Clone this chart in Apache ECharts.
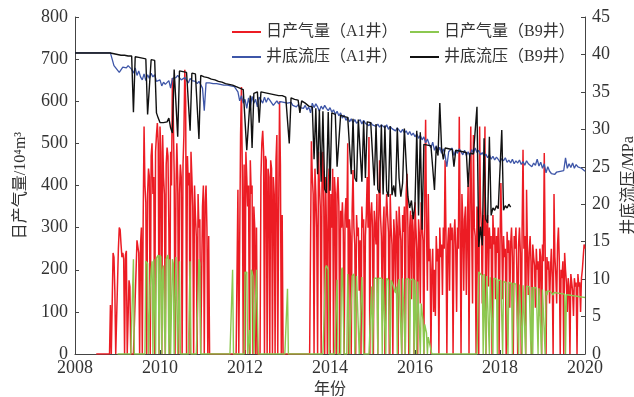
<!DOCTYPE html>
<html>
<head>
<meta charset="utf-8">
<script src="https://cdn.jsdelivr.net/npm/echarts@6/dist/echarts.min.js"></script>
<style>html,body{margin:0;padding:0;background:#fff;}#c{width:634px;height:397px;}</style>
</head>
<body>
<div id="c"></div>
<script>
const START_YEAR = 2008;
const xTicks = [2008, 2010, 2012, 2014, 2016, 2018, 2020];
const seriesNames = ['日产气量（A1井）', '日产气量（B9井）', '井底流压（A1井）', '井底流压（B9井）'];

// Gas rates: samples every 1/48 year (each row = half a year)
const GAS_STEP = 1 / 48;
// 日产气量 A1 (10^4 m3/d), first sample at 2008.5
const gasA1StartYear = 2008.5;
const gasA1 = [
0,0,0,0,0,0,0,0,0,0,0,0,0,0,0,0,116,0,0,240,230,150,0,0,
0,250,300,295,260,230,240,225,0,235,245,0,0,175,160,0,0,0,0,0,0,200,270,255,
240,0,260,300,0,320,540,400,360,0,380,440,420,0,470,500,380,420,0,480,520,548,500,0,
540,480,0,520,420,380,0,450,490,470,300,0,480,400,655,560,430,0,380,500,420,0,380,450,
420,0,450,520,675,600,0,470,400,430,0,480,420,350,0,400,330,280,0,380,300,320,0,0,
350,400,0,360,400,300,0,280,0,0,0,0,0,0,0,0,0,0,0,0,0,0,0,0,
0,0,0,0,0,0,0,0,0,0,0,0,0,0,0,0,390,0,0,520,634,420,0,450,
0,480,420,350,400,0,460,380,400,0,350,300,0,300,0,0,0,0,420,500,530,480,0,470,
460,0,440,420,0,460,440,0,420,380,0,460,520,0,330,600,450,0,330,0,0,0,0,0,
0,0,0,0,0,0,0,0,0,0,0,0,0,0,0,0,0,0,0,0,0,0,0,0,
0,0,0,505,420,380,0,440,380,300,0,480,400,350,0,420,480,350,0,420,300,0,400,440,
0,380,300,440,0,420,380,0,380,420,350,0,340,300,360,290,0,330,370,300,500,0,320,280,
0,340,437,300,260,0,330,280,300,150,270,0,350,300,320,0,280,330,420,300,515,0,330,360,
300,0,340,300,260,380,0,310,460,330,280,120,300,350,0,310,380,330,290,0,380,300,260,0,
320,280,150,340,300,0,350,300,270,0,330,290,350,0,380,428,300,0,300,340,130,330,290,0,
360,300,250,0,320,280,120,360,300,270,0,380,556,300,150,380,220,250,0,200,250,100,200,90,
280,220,250,0,300,230,260,140,300,250,460,280,0,260,300,150,310,270,300,0,280,320,250,100,
300,250,563,300,0,380,320,150,320,350,140,300,400,0,350,540,300,120,520,300,280,0,350,320,
0,540,350,300,120,330,280,540,0,300,330,160,300,250,280,0,330,260,300,130,280,240,300,0,
260,406,280,130,280,230,250,0,290,240,270,110,260,300,230,0,280,250,300,200,0,260,300,240,
0,300,485,250,280,0,390,250,140,240,280,220,0,260,230,210,110,250,200,220,90,250,230,0,
260,220,477,250,0,230,200,220,120,200,250,180,0,380,230,190,120,260,300,220,0,200,180,220,
0,240,200,170,100,180,160,0,190,170,150,90,180,160,170,0,190,160,170,100,180,200,230,260,
250
];

// 日产气量 B9 (10^4 m3/d), first sample at 2009.0
const gasB9StartYear = 2009.0;
const gasB9 = [
0,0,0,0,0,0,0,0,0,0,0,0,0,0,0,0,0,0,225,0,0,0,0,0,
0,0,0,0,0,0,0,0,220,220,215,0,0,160,200,220,0,225,225,0,228,230,235,0,
235,230,0,200,210,70,0,225,230,235,0,225,0,0,225,215,0,0,230,228,0,0,220,0,
0,0,0,0,0,0,0,0,0,0,220,0,0,0,0,0,0,0,0,0,225,215,0,0,
0,0,0,0,0,0,0,0,0,0,0,0,0,0,0,0,0,0,0,0,0,0,0,0,
0,0,0,0,0,0,0,0,0,0,200,0,0,0,0,0,0,0,0,0,0,0,0,0,
195,190,195,0,0,57,0,200,195,185,0,0,0,200,198,0,0,0,0,0,0,0,0,0,
0,0,0,0,0,0,0,0,0,0,0,0,0,0,0,0,0,0,0,0,0,0,0,0,
155,0,0,0,0,0,0,0,0,0,0,0,0,0,0,0,0,0,0,0,0,0,0,0,
0,0,0,0,0,0,0,0,0,0,0,0,0,0,0,0,0,0,0,205,210,205,200,0,
0,0,0,0,0,0,0,0,176,0,0,0,0,200,205,207,0,0,0,0,190,190,0,0,
0,185,185,190,0,0,185,185,183,0,0,0,183,183,0,0,0,0,0,0,0,0,0,160,
0,0,180,182,180,180,0,180,180,178,180,0,178,180,178,0,180,176,175,176,0,175,170,165,
165,150,145,160,0,165,178,180,178,0,180,180,178,0,178,180,180,178,0,176,178,176,178,0,
176,175,0,172,175,170,0,120,100,80,0,70,60,50,0,40,30,20,10,0,0,0,0,0,
0,0,0,0,0,0,0,0,0,0,0,0,0,0,0,0,0,0,0,0,0,0,0,0,
0,0,0,0,0,0,0,0,0,0,0,0,0,0,0,0,0,0,0,0,0,0,0,0,
195,195,190,188,185,0,190,188,0,185,182,185,0,182,185,183,0,180,180,178,178,0,176,175,
175,174,172,0,172,172,170,170,170,0,170,169,168,168,0,168,167,167,166,165,165,0,165,164,
163,0,163,162,162,0,161,160,160,160,159,0,159,0,158,158,157,157,157,0,156,155,155,0,
153,152,152,0,150,140,150,150,149,148,148,147,140,146,146,145,145,145,144,144,143,143,143,142,
142,142,0,141,141,140,140,140,139,139,139,138,138,138,137,137,137,136,136,136,135,135,135,134,
134
];

// Bottom-hole pressures: samples every 1/24 year, first sample at 2008.0
const PRES_STEP = 1 / 24;
const presA1StartYear = 2008.0;
const presA1 = [
40.2,40.2,40.2,40.2,40.2,40.2,40.2,40.2,40.2,40.2,40.2,40.2,40.2,40.2,40.2,40.2,40.2,40.2,40.2,40.2,40.2,40.2,
38.5,38.2,37.9,37.6,37.8,38.3,38.4,38.2,38.5,38.4,38.0,37.5,38.2,37.2,37.8,37.0,36.6,37.4,36.5,37.3,
36.8,37.5,37.0,37.3,36.4,36.2,36.6,35.8,36.3,36.0,35.9,36.5,35.5,36.8,37.0,36.9,37.2,37.0,36.6,36.5,
36.9,37.0,36.2,36.8,36.5,36.7,36.4,36.1,36.4,36.3,35.5,32.5,36.2,
36.2,36.2,36.1,36.1,36.1,36.1,36.0,36.0,36.0,35.9,35.9,35.9,35.8,35.8,35.7,35.7,35.6,
35.0,33.8,34.5,33.5,34.0,32.8,34.2,33.0,34.4,33.5,34.0,33.0,34.3,34.1,33.5,34.3,33.6,34.2,33.9,34.0,
33.2,33.0,33.8,33.4,33.7,33.5,33.6,33.4,
33.5,33.3,33.6,33.2,33.4,33.0,33.3,32.9,33.1,32.8,33.2,32.6,33.0,
32.2,33.5,32.9,33.4,33.0,32.4,33.1,32.7,33.2,32.8,32.5,32.9,32.3,32.6,32.0,32.4,31.8,32.2,
31.5,31.9,31.2,31.6,31.0,31.4,30.9,31.3,30.8,31.0,
31.3,30.7,31.2,30.8,31.0,30.5,30.9,30.6,30.8,30.4,
30.7,30.3,30.6,30.5,30.2,30.6,30.0,30.4,30.1,30.3,
29.8,30.2,29.9,29.6,30.0,29.5,29.8,29.3,29.7,29.2,
29.5,29.0,29.4,28.8,29.2,28.6,29.0,28.2,28.7,28.0,
27.5,28.3,27.2,27.8,27.0,27.6,26.8,27.4,26.5,25.0,27.0,26.8,27.5,26.5,27.2,26.8,27.4,27.0,26.6,27.2,
26.5,27.0,26.4,27.3,26.8,27.5,26.9,27.2,26.6,26.9,
26.4,26.7,26.2,26.6,26.0,26.4,25.9,26.3,26.0,25.6,
26.1,25.8,26.2,25.6,25.9,25.5,26.0,25.4,25.8,25.5,
25.9,25.3,25.7,25.2,25.8,25.4,25.6,25.0,25.5,25.2,
26.0,25.1,25.6,24.8,25.4,24.2,25.0,24.4,24.1,24.3,
24.0,24.3,24.1,24.4,24.2,24.5,26.2,24.8,25.4,24.9,
25.5,24.8,25.3,25.0,25.2,24.8,24.6,24.4
];

const presB9StartYear = 2008.0;
const presB9 = [
40.2,40.2,40.2,40.2,40.2,40.2,40.2,40.2,40.2,40.2,40.2,40.2,40.2,40.2,40.2,40.2,40.2,40.2,40.2,40.2,40.2,
40.1,40.1,40.0,40.0,40.0,39.9,39.9,39.9,39.9,39.8,39.8,39.8,32.3,39.7,39.7,39.6,39.6,39.5,39.5,39.4,
32.0,32.0,39.3,39.2,39.2,32.2,31.5,30.9,30.9,30.9,31.0,31.0,31.5,30.2,29.5,38.0,37.9,29.0,37.8,37.8,
37.7,37.7,37.6,37.6,29.8,37.5,37.4,37.4,37.3,28.7,
37.2,37.1,37.0,36.9,36.9,36.8,36.7,36.6,36.6,36.5,36.4,36.3,36.3,36.2,36.1,36.0,36.0,35.9,35.9,35.8,
35.7,35.6,35.5,35.4,35.3,35.3,
27.2,27.0,34.5,27.5,34.8,35.0,35.0,30.9,35.0,
35.0,34.9,34.9,34.8,34.8,34.7,34.7,34.6,34.6,34.5,34.5,34.5,34.4,34.3,
34.3,28.1,34.2,34.1,34.0,34.0,33.9,32.2,33.8,33.6,33.5,33.3,33.1,33.0,
33.0,26.0,32.8,24.0,32.6,23.0,32.4,22.0,21.5,32.3,21.8,32.2,32.1,32.0,25.0,24.8,31.9,31.8,31.7,31.6,
31.6,31.5,24.0,31.4,23.5,23.0,31.3,31.2,23.0,31.1,
23.5,31.0,30.9,30.9,30.8,22.5,30.7,22.0,21.5,30.6,21.3,30.5,21.8,21.0,30.4,21.2,22.5,21.0,30.2,23.5,
21.0,22.8,30.1,30.0,21.0,19.5,20.5,18.0,20.0,29.8,18.5,29.6,16.6,
28.0,27.9,27.9,27.8,27.8,27.7,21.9,27.7,26.5,33.5,27.5,26.0,27.5,27.4,27.4,27.3,27.3,25.0,27.2,27.2,
27.1,27.1,27.0,27.0,26.9,22.3,26.8,26.8,26.7,26.6,33.0,14.3,17.0,14.5,28.8,18.0,17.5,29.0,18.5,19.5,
19.2,19.8,19.4,19.6,29.9,19.2,19.8,19.5,20.0,19.6
];

function toPairs(startYear, step, vals) {
  return vals.map((v, k) => [startYear + k * step, v]);
}

const SERIF = '"Liberation Serif","DejaVu Serif","Noto Sans CJK SC",serif';
const chart = echarts.init(document.getElementById('c'), null, {renderer: 'canvas'});
const colors = ['#ec1c24', '#8cc850', '#3e56a8', '#111111'];

function legendAt(name, left, top) {
  return {
    data: [name], left: left, top: top, icon: 'rect', itemWidth: 29, itemHeight: 2,
    itemGap: 0, padding: 0,
    textStyle: {fontFamily: SERIF, fontSize: 16, color: '#333'}
  };
}

chart.setOption({
  animation: false,
  color: colors,
  grid: {left: 75, right: 49, top: 17, bottom: 43, containLabel: false, outerBoundsMode: 'none'},
  legend: [
    legendAt(seriesNames[0], 232, 24),
    legendAt(seriesNames[1], 410, 24),
    legendAt(seriesNames[2], 232, 49),
    legendAt(seriesNames[3], 410, 49)
  ],
  xAxis: {
    type: 'value', min: xTicks[0], max: xTicks[xTicks.length - 1], interval: 2,
    name: '年份', nameLocation: 'middle', nameGap: 20,
    nameTextStyle: {fontFamily: SERIF, fontSize: 16, color: '#333'},
    axisLine: {lineStyle: {color: '#444', width: 1}},
    axisTick: {inside: true, length: 4, lineStyle: {color: '#444'}},
    axisLabel: {fontFamily: SERIF, fontSize: 18, color: '#333', margin: 5,
      formatter: v => String(Math.round(v))},
    splitLine: {show: false}
  },
  yAxis: [
    {
      type: 'value', min: 0, max: 800, interval: 100,
      name: '日产气量/10⁴m³', nameLocation: 'middle', nameGap: 46, nameRotate: 90,
      nameTextStyle: {fontFamily: SERIF, fontSize: 16, color: '#333'},
      axisLine: {show: true, lineStyle: {color: '#444', width: 1}},
      axisTick: {show: true, inside: true, length: 4, lineStyle: {color: '#444'}},
      axisLabel: {fontFamily: SERIF, fontSize: 18, color: '#333', margin: 7},
      splitLine: {show: false}
    },
    {
      type: 'value', min: 0, max: 45, interval: 5, position: 'right',
      name: '井底流压/MPa', nameLocation: 'middle', nameGap: 32, nameRotate: 90,
      nameTextStyle: {fontFamily: SERIF, fontSize: 16, color: '#333'},
      axisLine: {show: true, lineStyle: {color: '#444', width: 1}},
      axisTick: {show: true, inside: true, length: 4, lineStyle: {color: '#444'}},
      axisLabel: {fontFamily: SERIF, fontSize: 18, color: '#333', margin: 7},
      splitLine: {show: false}
    }
  ],
  series: [
    {name: seriesNames[0], type: 'line', yAxisIndex: 0, data: toPairs(gasA1StartYear, GAS_STEP, gasA1),
      symbol: 'none', showSymbol: false, lineStyle: {width: 1.5, color: colors[0]}, z: 2},
    {name: seriesNames[1], type: 'line', yAxisIndex: 0, data: toPairs(gasB9StartYear, GAS_STEP, gasB9),
      symbol: 'none', showSymbol: false, lineStyle: {width: 1.4, color: colors[1]}, z: 3},
    {name: seriesNames[2], type: 'line', yAxisIndex: 1, data: toPairs(presA1StartYear, PRES_STEP, presA1),
      symbol: 'none', showSymbol: false, lineStyle: {width: 1.3, color: colors[2]}, z: 4},
    {name: seriesNames[3], type: 'line', yAxisIndex: 1, data: toPairs(presB9StartYear, PRES_STEP, presB9),
      symbol: 'none', showSymbol: false, lineStyle: {width: 1.4, color: colors[3]}, z: 5}
  ]
});
</script>
</body>
</html>
